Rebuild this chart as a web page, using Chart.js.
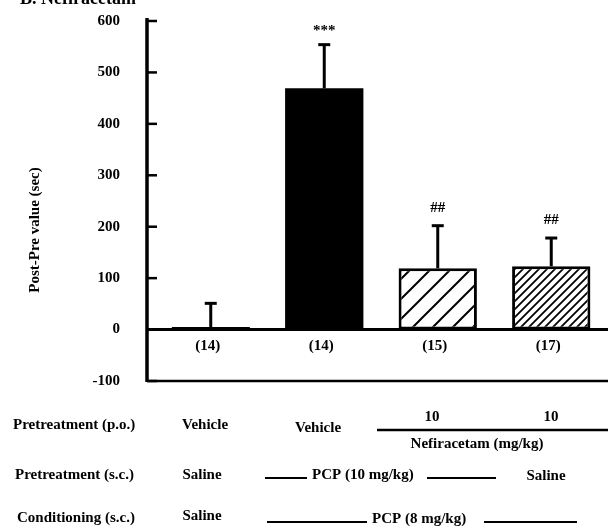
<!DOCTYPE html>
<html>
<head>
<meta charset="utf-8">
<script src="https://cdn.jsdelivr.net/npm/chart.js@4.4.1/dist/chart.umd.min.js"></script>
<style>
  html, body { margin: 0; padding: 0; background: #fff; }
  #wrap { width: 608px; height: 528px; }
</style>
</head>
<body>
<div id="wrap"><canvas id="chart" width="608" height="528"></canvas></div>
<script>
// groups (pretreatment p.o. / pretreatment s.c. / conditioning s.c.)
const categories = [
  "Vehicle / Saline / Saline",
  "Vehicle / PCP / PCP",
  "Nefiracetam 10 / PCP / PCP",
  "Nefiracetam 10 / Saline / PCP",
];
const meanValues = [5, 469, 119, 123];
const semValues = [46, 85, 83, 55];
const nLabels = ["(14)", "(14)", "(15)", "(17)"];
const sigMarks = ["", "***", "##", "##"];
const yTicks = [-100, 0, 100, 200, 300, 400, 500, 600];

const FONT = "'Liberation Serif', 'Times New Roman', serif";

// diagonal hatch
function hatch(size, lw) {
  const c = document.createElement("canvas");
  c.width = size;
  c.height = size;
  const g = c.getContext("2d");
  g.fillStyle = "#fff";
  g.fillRect(0, 0, size, size);
  g.strokeStyle = "#000";
  g.lineWidth = lw;
  g.beginPath();
  g.moveTo(-1, size + 1);
  g.lineTo(size + 1, -1);
  g.moveTo(-size / 2 - 1, size / 2 + 1);
  g.lineTo(size / 2 + 1, -size / 2 - 1);
  g.moveTo(size / 2 - 1, size * 1.5 + 1);
  g.lineTo(size * 1.5 + 1, size / 2 - 1);
  g.stroke();
  return g.createPattern(c, "repeat");
}

const ctx = document.getElementById("chart").getContext("2d");

const decor = {
  id: "decor",
  afterDatasetsDraw(chart) {
    const c = chart.ctx;
    const y = chart.scales.y;
    const area = chart.chartArea;
    const axisX = area.left - 7;
    const meta = chart.getDatasetMeta(0);

    c.save();
    c.strokeStyle = "#000";
    c.fillStyle = "#000";
    c.lineCap = "butt";

    // y axis line + inward ticks
    c.lineWidth = 3.5;
    c.beginPath();
    c.moveTo(axisX, y.getPixelForValue(600) - 3);
    c.lineTo(axisX, y.getPixelForValue(-100) + 1);
    c.stroke();
    c.lineWidth = 2.5;
    yTicks.forEach((t) => {
      const py = y.getPixelForValue(t);
      c.beginPath();
      c.moveTo(axisX, py);
      c.lineTo(axisX + 10, py);
      c.stroke();
    });

    // zero line and bottom line
    c.lineWidth = 3;
    c.beginPath();
    c.moveTo(axisX, y.getPixelForValue(0));
    c.lineTo(area.right, y.getPixelForValue(0));
    c.stroke();
    c.lineWidth = 2.5;
    c.beginPath();
    c.moveTo(axisX, y.getPixelForValue(-100));
    c.lineTo(area.right, y.getPixelForValue(-100));
    c.stroke();

    // error bars (upper only)
    meta.data.forEach((bar, i) => {
      const top = y.getPixelForValue(meanValues[i] + semValues[i]);
      const base = y.getPixelForValue(meanValues[i]);
      c.lineWidth = 3;
      c.beginPath();
      c.moveTo(bar.x, base);
      c.lineTo(bar.x, top);
      c.stroke();
      c.beginPath();
      c.moveTo(bar.x - 6, top);
      c.lineTo(bar.x + 6, top);
      c.stroke();

      c.font = "bold 15px " + FONT;
      c.textAlign = "center";
      c.textBaseline = "middle";
      if (sigMarks[i]) {
        const off = sigMarks[i] === "***" ? 14 : 18;
        c.fillText(sigMarks[i], bar.x, top - off);
      }
      c.fillText(nLabels[i], bar.x - 3, y.getPixelForValue(-32));
    });

    // y title
    c.save();
    c.translate(35, 230);
    c.rotate(-Math.PI / 2);
    c.font = "bold 15px " + FONT;
    c.textAlign = "center";
    c.textBaseline = "middle";
    c.fillText("Post-Pre value (sec)", 0, 0);
    c.restore();

    // panel title (cut off at top)
    c.font = "bold 18px " + FONT;
    c.textAlign = "left";
    c.textBaseline = "alphabetic";
    c.fillText("B. Nefiracetam", 20, 4);

    // treatment table
    c.font = "bold 15px " + FONT;
    c.textBaseline = "middle";
    const txt = (s, x, yy, align) => {
      c.textAlign = align || "center";
      c.fillText(s, x, yy);
    };
    const line = (x1, x2, yy, w) => {
      c.lineWidth = w || 2;
      c.beginPath();
      c.moveTo(x1, yy);
      c.lineTo(x2, yy);
      c.stroke();
    };

    txt("Pretreatment (p.o.)", 13, 425, "left");
    txt("Vehicle", 205, 425);
    txt("Vehicle", 318, 428);
    txt("10", 432, 417);
    txt("10", 551, 417);
    line(377, 608, 430, 2.5);
    txt("Nefiracetam (mg/kg)", 477, 444);

    txt("Pretreatment (s.c.)", 15, 475, "left");
    txt("Saline", 202, 475);
    line(265, 307, 478, 2);
    txt("PCP (10 mg/kg)", 312, 475, "left");
    line(427, 496, 478, 2);
    txt("Saline", 546, 476);

    txt("Conditioning (s.c.)", 17, 518, "left");
    txt("Saline", 202, 516);
    line(267, 367, 522, 2);
    txt("PCP (8 mg/kg)", 372, 519, "left");
    line(484, 577, 522, 2);

    c.restore();
  },
};

new Chart(ctx, {
  type: "bar",
  data: {
    labels: categories,
    datasets: [
      {
        data: meanValues,
        backgroundColor: ["#fff", "#000", hatch(20, 2), hatch(8, 1.8)],
        borderColor: "#000",
        borderWidth: [2, 0, 3, 3],
        borderSkipped: false,
        barPercentage: 0.69,
        categoryPercentage: 1,
      },
    ],
  },
  options: {
    responsive: false,
    animation: false,
    events: [],
    layout: { padding: { top: 21, bottom: 147, left: 0, right: 0 } },
    plugins: {
      legend: { display: false },
      tooltip: { enabled: false },
    },
    scales: {
      x: { display: false },
      y: {
        min: -100,
        max: 600,
        afterFit(scale) {
          scale.width = 154;
          scale.paddingTop = 8;
          scale.paddingBottom = 8;
        },
        afterBuildTicks(scale) {
          scale.ticks = yTicks.map((v) => ({ value: v }));
        },
        // tick marks hidden, their length only shifts the labels
        grid: { display: false, drawTicks: true, tickLength: 34 },
        border: { display: false },
        ticks: {
          padding: 0,
          color: "#000",
          font: { family: FONT, size: 15, weight: "bold" },
        },
      },
    },
  },
  plugins: [decor],
});
</script>
</body>
</html>
